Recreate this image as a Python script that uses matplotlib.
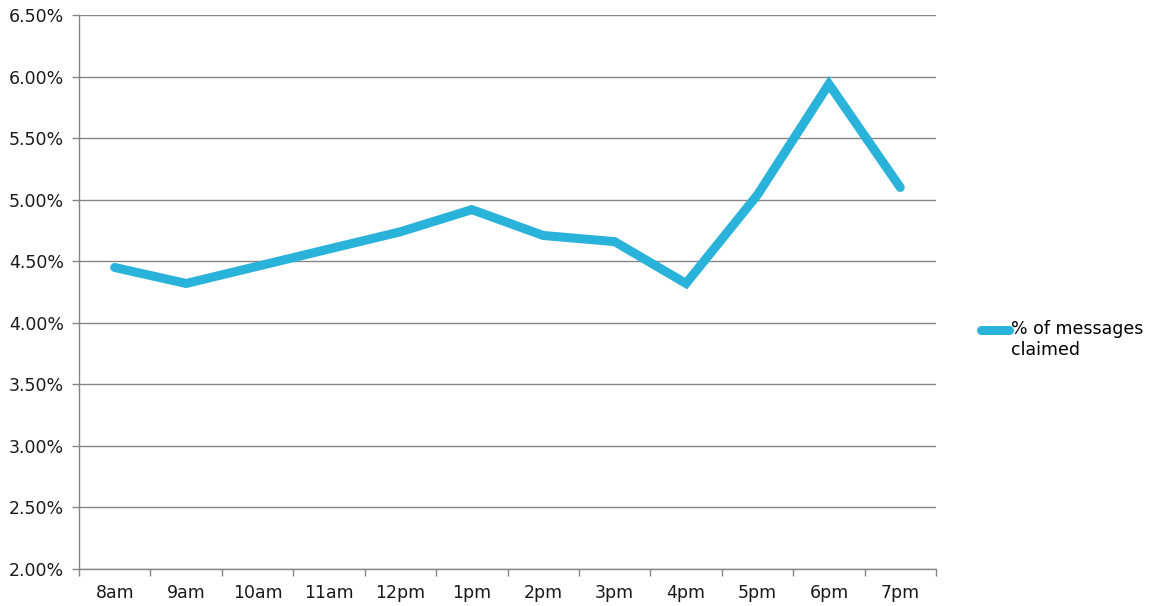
import matplotlib.pyplot as plt
import numpy as np
from matplotlib.legend_handler import HandlerLine2D
from matplotlib.lines import Line2D

plt.rcParams['font.family'] = ['DejaVu Sans']
plt.rcParams['font.size'] = 12.5

hours = ["8am", "9am", "10am", "11am", "12pm", "1pm", "2pm", "3pm", "4pm", "5pm", "6pm", "7pm"]
claimed = [4.45, 4.32, 4.46, 4.60, 4.74, 4.92, 4.71, 4.66, 4.32, 5.04, 5.94, 5.10]

x = np.arange(len(hours))
grey = "#868686"


class FirstLineHandler(HandlerLine2D):
    # put the legend swatch level with the first line of a two-line label
    def create_artists(self, legend, orig_handle, xdescent, ydescent,
                       width, height, fontsize, trans):
        arts = super().create_artists(legend, orig_handle, xdescent, ydescent,
                                      width, height, fontsize, trans)
        for a in arts:
            if isinstance(a, Line2D):
                a.set_ydata(np.asarray(a.get_ydata()) + 0.58 * fontsize)
        return arts


fig = plt.figure(figsize=(11.55, 6.06), dpi=100)
ax = fig.add_axes([0.0684, 0.061, 0.742, 0.914])

line, = ax.plot(x, claimed, color="#29B2DA", lw=6.5, solid_capstyle='round',
                solid_joinstyle='miter', label="% of messages\nclaimed", zorder=3)

ax.set_xlim(-0.5, len(hours) - 0.5)
ax.set_ylim(2.0, 6.5)
ax.set_yticks(np.arange(2.0, 6.51, 0.5))
ax.set_yticklabels([f"{v:.2f}%" for v in np.arange(2.0, 6.51, 0.5)])
ax.yaxis.grid(True, color=grey, lw=1)
ax.set_axisbelow(True)

# category boundaries get the tick marks, centres get the labels
ax.set_xticks(np.arange(-0.5, len(hours), 1.0))
ax.set_xticklabels([])
ax.set_xticks(x, minor=True)
ax.set_xticklabels(hours, minor=True)
ax.tick_params(axis='x', which='major', length=5, color=grey, width=1)
ax.tick_params(axis='x', which='minor', length=0, pad=11, labelcolor="#1a1a1a")
ax.tick_params(axis='y', length=5, color=grey, width=1, pad=6, labelcolor="#1a1a1a")

for s in ("top", "right"):
    ax.spines[s].set_visible(False)
for s in ("left", "bottom"):
    ax.spines[s].set_color(grey)
    ax.spines[s].set_linewidth(1)

ax.legend(loc='center left', bbox_to_anchor=(1.034, 0.415), frameon=False,
          handlelength=1.65, handletextpad=0.1, fontsize=12.5,
          handler_map={line: FirstLineHandler()})

plt.savefig("out.png", dpi=100)
